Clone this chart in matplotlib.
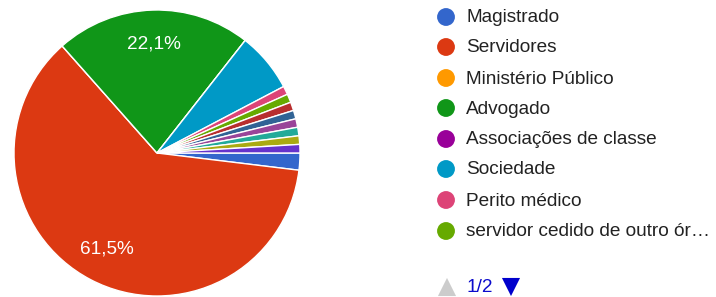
import matplotlib
matplotlib.use("Agg")
import matplotlib.pyplot as plt

plt.rcParams["font.family"] = ["Liberation Sans", "DejaVu Sans"]

# slice data, in drawing order (clockwise from 3 o'clock)
labels = [
    "Magistrado",
    "Servidores",
    "Ministério Público",
    "Advogado",
    "Associações de classe",
    "Sociedade",
    "Perito médico",
    "servidor cedido de outro ór…",
]
# 104 responses; last six categories are on legend page 2
counts = [2, 64, 0, 23, 0, 7, 1, 1, 1, 1, 1, 1, 1, 1]
colors = ["#3366cc", "#dc3912", "#ff9900", "#109618", "#990099", "#0099c6",
          "#dd4477", "#66aa00", "#b82e2e", "#316395", "#994499", "#22aa99",
          "#aaaa11", "#6633cc"]

W, H = 716, 297
fig = plt.figure(figsize=(W / 100, H / 100), dpi=100)

# pie: centre about (157, 153) px, radius 143 px
ax = fig.add_axes([14 / W, 1 - (153 + 143) / H, 286 / W, 286 / H])


def pct_label(p):
    return f"{p:.1f}%".replace(".", ",") if p > 10 else ""


ax.pie(counts, colors=colors, startangle=0, counterclock=False,
       wedgeprops=dict(edgecolor="white", linewidth=1),
       autopct=pct_label, pctdistance=0.76,
       textprops=dict(color="white", fontsize=13.7))
ax.set_xlim(-1, 1)
ax.set_ylim(-1, 1)

# legend drawn in pixel coordinates
lg = fig.add_axes([0, 0, 1, 1])
lg.set_xlim(0, W)
lg.set_ylim(H, 0)
lg.axis("off")

row_y = [17, 47, 78, 108, 139, 169, 200, 231]
for name, col, y in zip(labels, colors, row_y):
    lg.scatter(446, y, s=165, color=col, edgecolors="none")
    lg.text(466, y + 1, name, va="center", ha="left", fontsize=13.7, color="#222222")

# pager
lg.scatter(447, 287, s=170, marker="^", color="#cccccc", edgecolors="none")
lg.text(466, 288, "1/2", va="center", ha="left", fontsize=13.7, color="#0b0bcc")
lg.scatter(511, 287, s=170, marker="v", color="#0000cc", edgecolors="none")

fig.savefig("out.png", dpi=100)
